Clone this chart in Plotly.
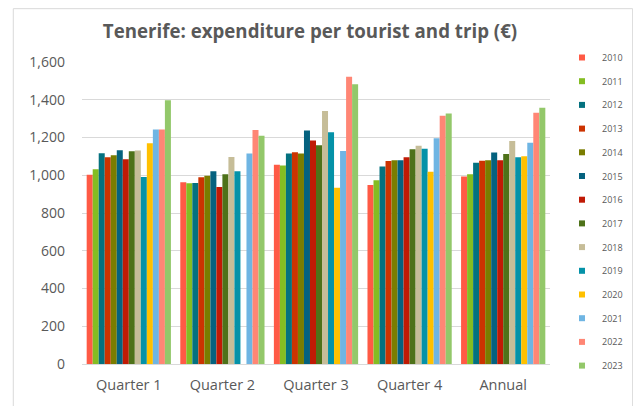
import plotly.graph_objects as go

categories = ["Quarter 1", "Quarter 2", "Quarter 3", "Quarter 4", "Annual"]
years = ["2010", "2011", "2012", "2013", "2014", "2015", "2016",
         "2017", "2018", "2019", "2020", "2021", "2022", "2023"]

v2010 = [1002, 963, 1055, 949, 993]
v2011 = [1032, 958, 1051, 973, 1005]
v2012 = [1117, 959, 1115, 1046, 1066]
v2013 = [1096, 989, 1122, 1075, 1077]
v2014 = [1106, 998, 1115, 1080, 1079]
v2015 = [1133, 1021, 1237, 1080, 1121]
v2016 = [1085, 938, 1184, 1095, 1079]
v2017 = [1127, 1005, 1159, 1138, 1112]
v2018 = [1131, 1097, 1341, 1156, 1181]
v2019 = [991, 1021, 1228, 1140, 1096]
v2020 = [1170, None, 934, 1019, 1101]
v2021 = [1242, 1115, 1129, 1196, 1172]
v2022 = [1242, 1240, 1522, 1315, 1331]
v2023 = [1398, 1209, 1482, 1327, 1358]

series = [v2010, v2011, v2012, v2013, v2014, v2015, v2016,
          v2017, v2018, v2019, v2020, v2021, v2022, v2023]
colors = ["#FF5A45", "#84BD22", "#04717F", "#CC3301", "#7A7D00", "#05627F",
          "#C01A05", "#4E7219", "#C6BD98", "#0492A8", "#FFC000", "#6FB5E3",
          "#FF8675", "#93C86A"]

FONT = "'Open Sans', sans-serif"
fig = go.Figure()
for y, vals, c in zip(years, series, colors):
    fig.add_trace(go.Bar(
        x=categories, y=vals, name=y, marker_color=c,
        marker_line_width=0, legendgroup=y, showlegend=False,
    ))
# legend entries with small square keys
for y, c in zip(years, colors):
    fig.add_trace(go.Scatter(
        x=[None], y=[None], mode="markers", name=y, legendgroup=y,
        marker=dict(symbol="square", size=6, color=c),
        hoverinfo="skip",
    ))

# the page body adds an 8px offset; figure is sized to fill the rest
OFF = 8
W, H = 641 - OFF, 406 - OFF
L = 82 - OFF
R = W - (552 - OFF)
T = 62 - OFF
B = H - (365 - OFF)
pw, ph = W - L - R, H - T - B

def px_x(x):
    return (x - OFF - L) / pw

def px_y(y):
    return (H - B - (y - OFF)) / ph

fig.update_layout(
    width=W, height=H,
    margin=dict(l=L, r=R, t=T, b=B),
    paper_bgcolor="white", plot_bgcolor="white",
    barmode="group", bargap=0.1, bargroupgap=0,
    font=dict(family=FONT, color="#595959"),
    title=dict(text="<b>Tenerife: expenditure per tourist and trip (€)</b>",
               x=(310 - OFF) / W, xanchor="center",
               y=1 - (31 - OFF) / H, yanchor="middle",
               font=dict(size=18.7, color="#595959", family=FONT)),
    legend=dict(xref="container", yref="container",
                x=(562 - OFF) / W, xanchor="left",
                y=1 - (43 - OFF) / H, yanchor="top",
                font=dict(size=9, color="#595959", family=FONT),
                tracegroupgap=4.7, itemwidth=30, maxheight=390,
                bgcolor="rgba(0,0,0,0)"),
    xaxis=dict(showgrid=False, showline=True, linecolor="#D9D9D9",
               ticks="", ticklabelstandoff=8,
               tickfont=dict(size=14.5, color="#595959")),
    yaxis=dict(range=[0, 1600], dtick=200, tickformat=",",
               showgrid=True, gridcolor="#D9D9D9", gridwidth=1,
               zeroline=False, showline=False, ticks="",
               ticklabelstandoff=16,
               tickfont=dict(size=14, color="#595959")),
    shapes=[dict(type="rect", xref="paper", yref="paper",
                 x0=px_x(13), x1=px_x(635), y0=px_y(420), y1=px_y(8.5),
                 line=dict(color="#D9D9D9", width=1), fillcolor="rgba(0,0,0,0)",
                 layer="below")],
)

fig.write_html("out.html")
